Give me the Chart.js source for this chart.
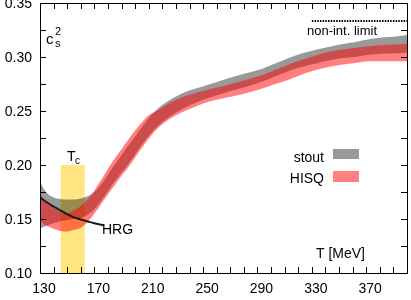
<!DOCTYPE html>
<html>
<head>
<meta charset="utf-8">
<script src="https://cdn.jsdelivr.net/npm/chart.js@4/dist/chart.umd.min.js"></script>
<style>
  html, body { margin: 0; padding: 0; background: #fff; }
  canvas { display: block; }
</style>
</head>
<body>
<canvas id="cs2Chart" width="411" height="300"></canvas>
<script>
const temps = [130, 135, 140, 145, 150, 155, 160, 165, 170, 175, 180, 185, 190, 195, 200, 205, 210,
  217, 224, 234, 244, 254, 264, 273, 283, 293, 303, 313, 323, 333, 343, 353, 362, 372, 382, 392, 400];

const stoutLow = [0.141, 0.144, 0.146, 0.148, 0.149, 0.150, 0.151, 0.154, 0.159, 0.167, 0.176, 0.185, 0.193, 0.201, 0.210, 0.219, 0.227,
  0.2365, 0.2435, 0.2515, 0.2575, 0.262, 0.266, 0.2695, 0.273, 0.277, 0.282, 0.287, 0.291, 0.294, 0.297, 0.299, 0.300, 0.302, 0.303, 0.3035, 0.304];
const stoutHigh = [0.184, 0.174, 0.170, 0.1685, 0.168, 0.168, 0.169, 0.171, 0.175, 0.182, 0.191, 0.2005, 0.209, 0.218, 0.2265, 0.235, 0.2435,
  0.2525, 0.259, 0.266, 0.2705, 0.2745, 0.2785, 0.282, 0.2855, 0.289, 0.294, 0.299, 0.3035, 0.3068, 0.3096, 0.312, 0.314, 0.3165, 0.318, 0.319, 0.3204];

const hisqLow = [0.148, 0.1435, 0.141, 0.139, 0.1385, 0.140, 0.142, 0.147, 0.155, 0.164, 0.173, 0.1815, 0.190, 0.198, 0.207, 0.216, 0.2245,
  0.2345, 0.2415, 0.2485, 0.254, 0.2585, 0.2615, 0.264, 0.267, 0.2705, 0.275, 0.279, 0.284, 0.288, 0.291, 0.293, 0.2945, 0.296, 0.296, 0.296, 0.296];
const hisqHigh = [0.172, 0.1655, 0.160, 0.1565, 0.1555, 0.158, 0.162, 0.168, 0.1765, 0.186, 0.1965, 0.206, 0.2145, 0.2235, 0.232, 0.2395, 0.246,
  0.251, 0.2565, 0.2625, 0.2665, 0.270, 0.273, 0.276, 0.2795, 0.283, 0.288, 0.293, 0.2975, 0.3015, 0.305, 0.307, 0.3085, 0.310, 0.311, 0.3115, 0.312];

const hrgTemps = [130, 135, 140, 145, 150, 155, 160, 165, 170, 175, 177];
const hrgValues = [0.170, 0.1655, 0.1615, 0.158, 0.1545, 0.1515, 0.1495, 0.1477, 0.146, 0.1447, 0.1443];

const tcRange = [145, 163];
const tcTop = 0.20;
const nonIntLimit = 1 / 3;
const limitRange = [330, 400];

const xTickLabels = [130, 170, 210, 250, 290, 330, 370];
const yTickLabels = [0.10, 0.15, 0.20, 0.25, 0.30, 0.35];
const xMinorTicks = [130, 140, 150, 160, 170, 180, 190, 200, 210, 220, 230, 240, 250, 260, 270, 280, 290, 300, 310, 320, 330, 340, 350, 360, 370, 380, 390, 400];
const yMinorTicks = [0.10, 0.125, 0.15, 0.175, 0.20, 0.225, 0.25, 0.275, 0.30, 0.325, 0.35];

const FONT = "'Liberation Sans', Arial, sans-serif";

function toPoints(xs, ys) {
  return xs.map((t, i) => ({x: t, y: ys[i]}));
}

const framePlugin = {
  id: 'gnuplotFrame',
  afterDatasetsDraw: (chart) => {
    const {ctx, chartArea: a, scales: {x, y}} = chart;
    ctx.save();
    ctx.strokeStyle = '#000';
    ctx.lineWidth = 1;
    ctx.beginPath();
    xMinorTicks.forEach(t => {
      const px = Math.round(x.getPixelForValue(t)) + 0.5;
      ctx.moveTo(px, a.bottom); ctx.lineTo(px, a.bottom - 6);
      ctx.moveTo(px, a.top); ctx.lineTo(px, a.top + 6);
    });
    yMinorTicks.forEach(v => {
      const py = Math.round(y.getPixelForValue(v)) + 0.5;
      ctx.moveTo(a.left, py); ctx.lineTo(a.left + 6, py);
      ctx.moveTo(a.right, py); ctx.lineTo(a.right - 6, py);
    });
    ctx.stroke();
    ctx.strokeRect(a.left + 0.5, a.top + 0.5, a.right - a.left, a.bottom - a.top);
    ctx.restore();
  }
};

const labelsPlugin = {
  id: 'plotLabels',
  afterDraw: (chart) => {
    const {ctx} = chart;
    ctx.save();
    ctx.fillStyle = '#000';
    ctx.textBaseline = 'alphabetic';

    // c_s^2
    ctx.font = '15px ' + FONT;
    ctx.textAlign = 'left';
    ctx.fillText('c', 46, 44);
    ctx.font = '11px ' + FONT;
    ctx.fillText('2', 55, 35);
    ctx.fillText('s', 55, 47);

    // T_c
    ctx.font = '14px ' + FONT;
    ctx.fillText('T', 67, 161);
    ctx.font = '10px ' + FONT;
    ctx.fillText('c', 75, 164);

    ctx.font = '14px ' + FONT;
    ctx.fillText('HRG', 102, 234);

    ctx.font = '13px ' + FONT;
    ctx.textAlign = 'center';
    ctx.fillText('non-int. limit', 342, 35);

    ctx.font = '14px ' + FONT;
    ctx.textAlign = 'right';
    ctx.fillText('T [MeV]', 365, 258);

    // legend
    ctx.fillText('stout', 324, 162);
    ctx.fillText('HISQ', 324, 183);
    ctx.fillStyle = '#999999';
    ctx.fillRect(333, 149, 26, 10);
    ctx.fillStyle = '#ff8080';
    ctx.fillRect(333, 171, 26, 11);
    ctx.restore();
  }
};

function createSoundSpeedChart() {
  const canvas = document.querySelector('#cs2Chart');

  const config = {
    type: 'line',
    data: {
      datasets: [
        {
          label: 'HRG',
          data: toPoints(hrgTemps, hrgValues),
          borderColor: '#1a1a1a',
          borderWidth: 2,
          pointRadius: 0,
          cubicInterpolationMode: 'monotone',
          fill: false,
          order: 0
        },
        {
          label: 'non-int. limit',
          data: toPoints(limitRange, [nonIntLimit, nonIntLimit]),
          borderColor: '#000',
          borderWidth: 2,
          borderDash: [1.5, 1.2],
          pointRadius: 0,
          fill: false,
          order: 0
        },
        {
          label: 'HISQ low',
          data: toPoints(temps, hisqLow),
          borderWidth: 0,
          pointRadius: 0,
          cubicInterpolationMode: 'monotone',
          fill: false,
          order: 1
        },
        {
          label: 'HISQ',
          data: toPoints(temps, hisqHigh),
          borderWidth: 0,
          pointRadius: 0,
          cubicInterpolationMode: 'monotone',
          backgroundColor: 'rgba(255, 0, 0, 0.5)',
          fill: 2,
          order: 1
        },
        {
          label: 'stout low',
          data: toPoints(temps, stoutLow),
          borderWidth: 0,
          pointRadius: 0,
          cubicInterpolationMode: 'monotone',
          fill: false,
          order: 2
        },
        {
          label: 'stout',
          data: toPoints(temps, stoutHigh),
          borderWidth: 0,
          pointRadius: 0,
          cubicInterpolationMode: 'monotone',
          backgroundColor: 'rgba(0, 0, 0, 0.4)',
          fill: 4,
          order: 2
        },
        {
          label: 'Tc',
          data: toPoints(tcRange, [tcTop, tcTop]),
          borderWidth: 0,
          pointRadius: 0,
          backgroundColor: '#ffe680',
          fill: 'start',
          order: 3
        }
      ]
    },
    options: {
      responsive: false,
      animation: false,
      devicePixelRatio: 1,
      layout: {padding: {top: 3, right: 4, left: 0, bottom: 0}},
      plugins: {
        legend: {display: false},
        tooltip: {enabled: false}
      },
      scales: {
        x: {
          type: 'linear',
          min: 130,
          max: 400,
          grid: {display: false, drawTicks: false},
          border: {display: false},
          afterBuildTicks: (s) => { s.ticks = xTickLabels.map(v => ({value: v})); },
          afterFit: (s) => { s.height = 27; s.paddingLeft = 0; s.paddingRight = 0; },
          ticks: {
            autoSkip: false,
            maxRotation: 0,
            padding: 8,
            labelOffset: 4,
            color: '#000',
            font: {family: FONT, size: 14}
          }
        },
        y: {
          type: 'linear',
          min: 0.1,
          max: 0.35,
          grid: {display: false, drawTicks: false},
          border: {display: false},
          afterBuildTicks: (s) => { s.ticks = yTickLabels.map(v => ({value: v})); },
          afterFit: (s) => { s.width = 40; s.paddingTop = 0; s.paddingBottom = 0; },
          ticks: {
            autoSkip: false,
            padding: 8,
            labelOffset: 1,
            color: '#000',
            font: {family: FONT, size: 14},
            callback: (v) => Number(v).toFixed(2)
          }
        }
      }
    },
    plugins: [framePlugin, labelsPlugin]
  };

  new Chart(canvas, config);
}

createSoundSpeedChart();
</script>
</body>
</html>
